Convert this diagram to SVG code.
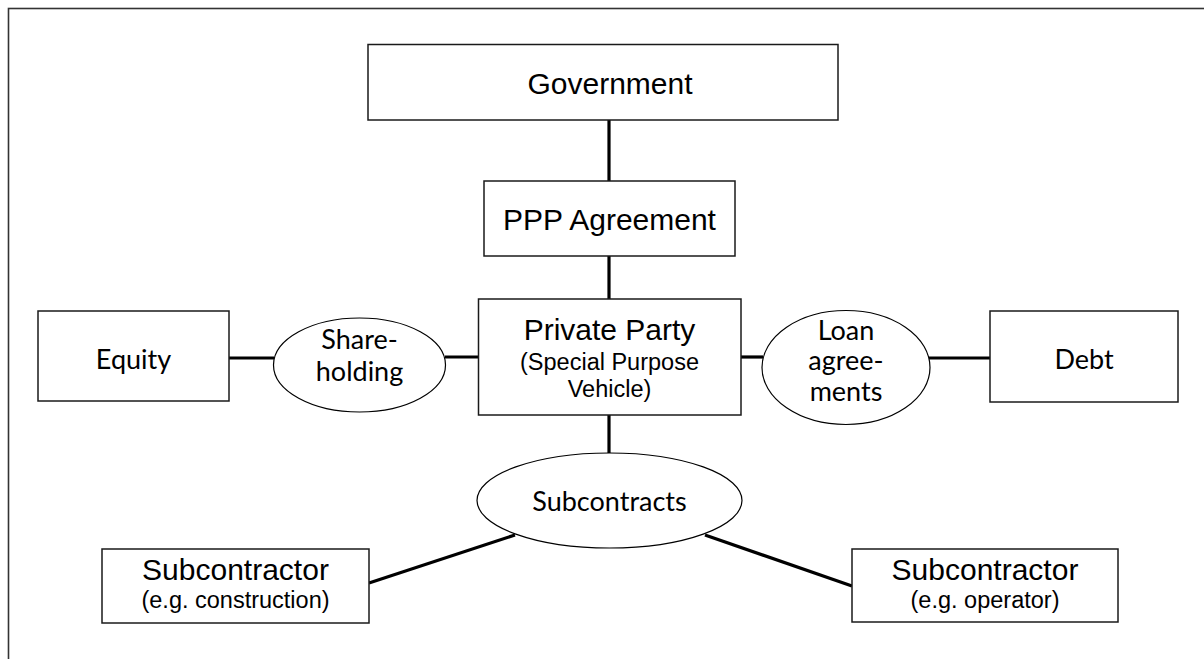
<svg xmlns="http://www.w3.org/2000/svg" width="1204" height="659" viewBox="0 0 1204 659">
  <style>
    .box { fill: #ffffff; stroke: #1a1a1a; stroke-width: 1.5; }
    .oval { fill: #ffffff; stroke: #000000; stroke-width: 1.2; }
    .link { stroke: #000000; stroke-width: 3.2; fill: none; }
    .frame { fill: none; stroke: #333333; stroke-width: 1.6; }
    .ar { font-family: "Liberation Sans", Arial, sans-serif; fill: #000; text-anchor: middle; }
    .hum { font-family: Lato, "Open Sans", sans-serif; fill: #000; text-anchor: middle; font-size: 27px; }
  </style>

  <rect width="1204" height="659" fill="#ffffff"/>
  <!-- page frame, open on the right and bottom -->
  <rect class="frame" x="8.5" y="8.5" width="1300" height="800"/>

  <!-- connectors -->
  <g id="connectors">
    <line class="link" x1="609" y1="120" x2="609" y2="181"/>
    <line class="link" x1="609" y1="256" x2="609" y2="299"/>
    <line class="link" x1="609" y1="415" x2="609" y2="453"/>
    <line class="link" x1="229" y1="358" x2="274" y2="358"/>
    <line class="link" x1="445" y1="357" x2="478" y2="357"/>
    <line class="link" x1="741" y1="357" x2="763" y2="357"/>
    <line class="link" x1="929" y1="358" x2="990" y2="358"/>
    <line class="link" x1="515" y1="535" x2="369" y2="583"/>
    <line class="link" x1="705" y1="535" x2="852" y2="586"/>
  </g>

  <g id="government">
    <rect class="box" x="368" y="44.5" width="470" height="75.5"/>
    <text class="ar" x="610" y="94" font-size="30">Government</text>
  </g>

  <g id="ppp-agreement">
    <rect class="box" x="484" y="181" width="251" height="75"/>
    <text class="ar" x="609.5" y="230" font-size="30">PPP Agreement</text>
  </g>

  <g id="private-party">
    <rect class="box" x="478.5" y="299" width="262.5" height="116"/>
    <text class="ar" x="609.5" y="340" font-size="30">Private Party</text>
    <text class="ar" x="609.5" y="370" font-size="23.5">(Special Purpose</text>
    <text class="ar" x="609.5" y="397" font-size="23.5">Vehicle)</text>
  </g>

  <g id="equity">
    <rect class="box" x="38" y="311" width="191" height="90"/>
    <text class="hum" x="133.5" y="369" font-size="28">Equity</text>
  </g>

  <g id="shareholding">
    <ellipse class="oval" cx="359.5" cy="365" rx="86" ry="47"/>
    <text class="hum" x="359.5" y="349">Share-</text>
    <text class="hum" x="359.5" y="381">holding</text>
  </g>

  <g id="loan-agreements">
    <ellipse class="oval" cx="846" cy="367.5" rx="84" ry="57"/>
    <text class="hum" x="846" y="340">Loan</text>
    <text class="hum" x="846" y="370">agree-</text>
    <text class="hum" x="846" y="401">ments</text>
  </g>

  <g id="debt">
    <rect class="box" x="990" y="311" width="188" height="91"/>
    <text class="hum" x="1084" y="369" font-size="28">Debt</text>
  </g>

  <g id="subcontracts">
    <ellipse class="oval" cx="609.5" cy="500.5" rx="132.5" ry="47.5"/>
    <text class="hum" x="609.5" y="511">Subcontracts</text>
  </g>

  <g id="subcontractor-construction">
    <rect class="box" x="102" y="549" width="267" height="74"/>
    <text class="ar" x="235.5" y="580" font-size="30">Subcontractor</text>
    <text class="ar" x="235.5" y="608" font-size="23.5">(e.g. construction)</text>
  </g>

  <g id="subcontractor-operator">
    <rect class="box" x="852" y="549" width="266" height="73"/>
    <text class="ar" x="985" y="580" font-size="30">Subcontractor</text>
    <text class="ar" x="985" y="608" font-size="23.5">(e.g. operator)</text>
  </g>
</svg>
